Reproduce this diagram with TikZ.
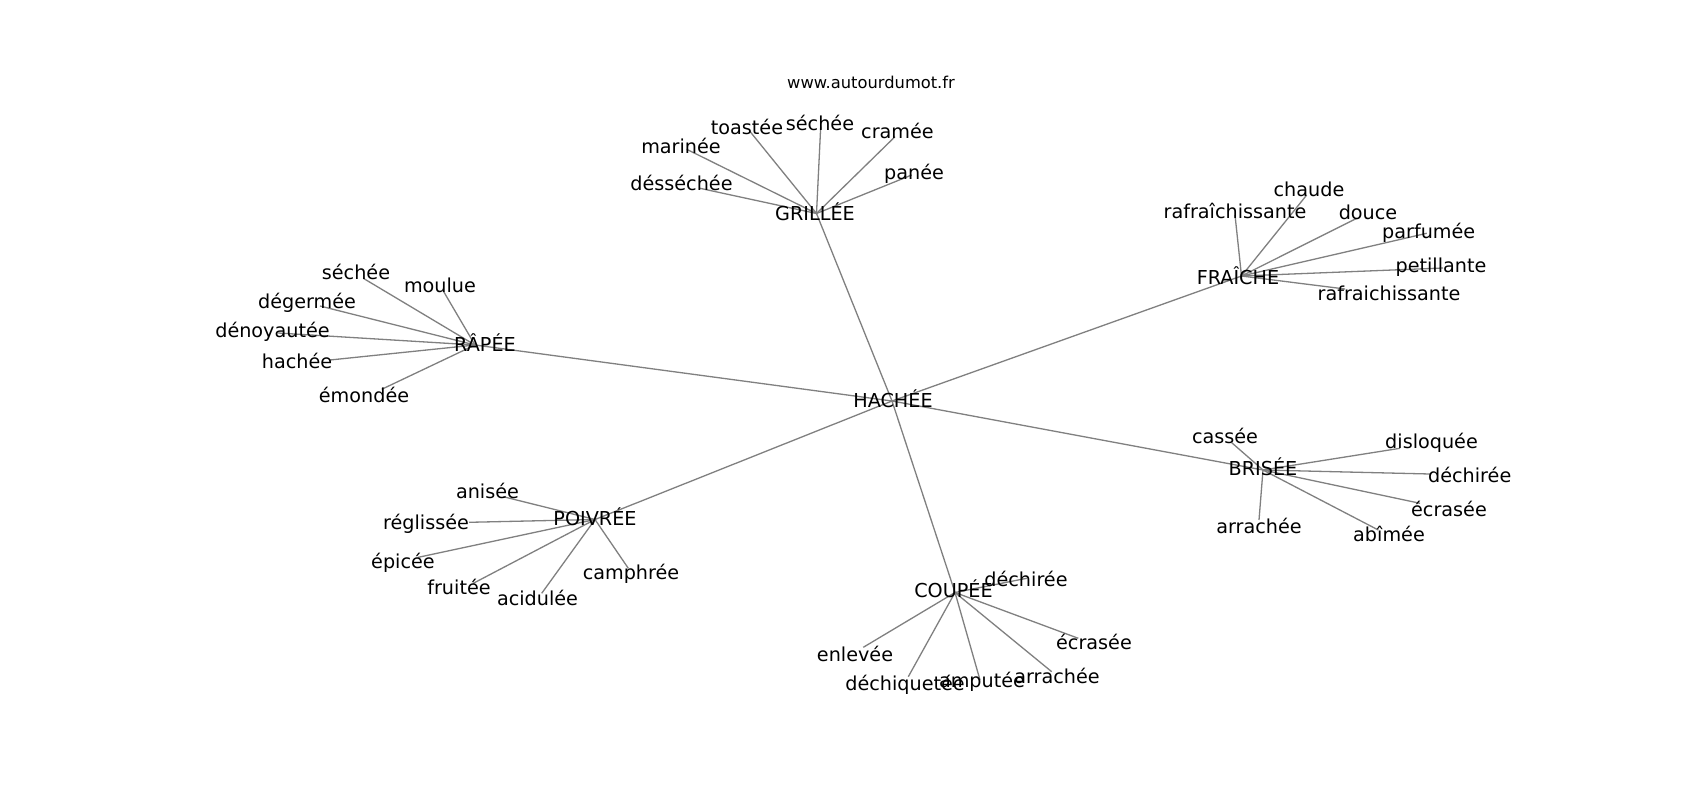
\documentclass[tikz,border=0pt]{standalone}
\usepackage{fontspec}
\setmainfont{DejaVu Sans}
\definecolor{edgegray}{HTML}{808080}
\tikzset{
  lbl/.style={inner sep=0pt, anchor=base, yshift=-7pt, font=\fontsize{19.2}{22}\selectfont, text=black},
  urlstyle/.style={inner sep=0pt, anchor=base, yshift=-5.6pt, font=\fontsize{16.3}{19}\selectfont, text=black},
  link/.style={draw=edgegray, line width=1.3pt}
}
\begin{document}
\begin{tikzpicture}[x=1pt,y=-1pt]
\useasboundingbox[fill=white] (0,0) rectangle (1700,800);
% edge end points
\coordinate (hachee) at (892,401);
\coordinate (grillee) at (816.5,213.5);
\coordinate (fraiche) at (1241.5,276);
\coordinate (rapee) at (475,345);
\coordinate (poivree) at (595,519.5);
\coordinate (brisee) at (1263,470);
\coordinate (coupee) at (955,592.5);
% grillee leaves
\coordinate (toastee) at (750,131.5);
\coordinate (sechA) at (820.7,126.7);
\coordinate (cramee) at (895,136.7);
\coordinate (panee) at (911.7,175);
\coordinate (marinee) at (686.7,149.3);
\coordinate (dessechee) at (700,188.3);
% fraiche leaves
\coordinate (chaude) at (1306.7,195);
\coordinate (rafA) at (1235,215);
\coordinate (douce) at (1356.7,218.3);
\coordinate (parfumee) at (1426.7,233.3);
\coordinate (petillante) at (1443,268);
\coordinate (rafB) at (1345,289);
% rapee leaves
\coordinate (sechB) at (363.3,278.3);
\coordinate (moulue) at (443.3,291);
\coordinate (degermee) at (320,306);
\coordinate (denoyautee) at (278,333);
\coordinate (hacheeL) at (330,360);
\coordinate (emondee) at (381.7,389.3);
% brisee leaves
\coordinate (cassee) at (1231.7,442.7);
\coordinate (disloquee) at (1400,448.3);
\coordinate (dechA) at (1430,474);
\coordinate (ecrA) at (1420,503.3);
\coordinate (arrA) at (1259,520);
\coordinate (abimee) at (1378.3,530);
% poivree leaves
\coordinate (anisee) at (503.3,496.7);
\coordinate (reglissee) at (469,522.3);
\coordinate (epicee) at (418.3,557.3);
\coordinate (fruitee) at (473.3,583.3);
\coordinate (acidulee) at (541.7,593.3);
\coordinate (camphree) at (628.3,568.3);
% coupee leaves
\coordinate (dechB) at (1026.7,578.3);
\coordinate (enlevee) at (863.3,647.3);
\coordinate (dechiquetee) at (908.3,676.7);
\coordinate (amputee) at (980,680);
\coordinate (arrB) at (1051.7,671.7);
\coordinate (ecrB) at (1078.3,638.3);

% edges
\foreach \h in {grillee,fraiche,rapee,poivree,brisee,coupee}
  \draw[link] (hachee) -- (\h);
\foreach \l in {toastee,sechA,cramee,panee,marinee,dessechee}
  \draw[link] (grillee) -- (\l);
\foreach \l in {chaude,rafA,douce,parfumee,petillante,rafB}
  \draw[link] (fraiche) -- (\l);
\foreach \l in {sechB,moulue,degermee,denoyautee,hacheeL,emondee}
  \draw[link] (rapee) -- (\l);
\foreach \l in {cassee,disloquee,dechA,ecrA,arrA,abimee}
  \draw[link] (brisee) -- (\l);
\foreach \l in {anisee,reglissee,epicee,fruitee,acidulee,camphree}
  \draw[link] (poivree) -- (\l);
\foreach \l in {dechB,enlevee,dechiquetee,amputee,arrB,ecrB}
  \draw[link] (coupee) -- (\l);

% labels
\node[urlstyle] (url) at (871,83) {www.autourdumot.fr};
\node[lbl] (hachee-t) at (893,400) {HACHÉE};
\node[lbl] (grillee-t) at (815,213) {GRILLÉE};
\node[lbl] (fraiche-t) at (1238,277) {FRAÎCHE};
\node[lbl] (rapee-t) at (485,344) {RÂPÉE};
\node[lbl] (poivree-t) at (595,518.5) {POIVRÉE};
\node[lbl] (brisee-t) at (1263,468.5) {BRISÉE};
\node[lbl] (coupee-t) at (953.5,590) {COUPÉE};

\node[lbl] (toastee-t) at (747,127) {toastée};
\node[lbl] (sechA-t) at (820,123.3) {séchée};
\node[lbl] (cramee-t) at (897.5,131.7) {cramée};
\node[lbl] (panee-t) at (914,172.7) {panée};
\node[lbl] (marinee-t) at (681,146) {marinée};
\node[lbl] (dessechee-t) at (681.5,183.3) {désséchée};

\node[lbl] (chaude-t) at (1309,189.3) {chaude};
\node[lbl] (rafA-t) at (1235,211) {rafraîchissante};
\node[lbl] (douce-t) at (1368,212.7) {douce};
\node[lbl] (parfumee-t) at (1428.7,231) {parfumée};
\node[lbl] (petillante-t) at (1441,265) {petillante};
\node[lbl] (rafB-t) at (1389,293.3) {rafraichissante};

\node[lbl] (sechB-t) at (356,272.7) {séchée};
\node[lbl] (moulue-t) at (440,285.7) {moulue};
\node[lbl] (degermee-t) at (307,301.7) {dégermée};
\node[lbl] (denoyautee-t) at (272.5,330) {dénoyautée};
\node[lbl] (hacheeL-t) at (297,361.7) {hachée};
\node[lbl] (emondee-t) at (364,395) {émondée};

\node[lbl] (cassee-t) at (1225,436) {cassée};
\node[lbl] (disloquee-t) at (1431.5,441.7) {disloquée};
\node[lbl] (dechA-t) at (1469.7,475) {déchirée};
\node[lbl] (ecrA-t) at (1449,509.3) {écrasée};
\node[lbl] (arrA-t) at (1259,526.7) {arrachée};
\node[lbl] (abimee-t) at (1389,534.3) {abîmée};

\node[lbl] (anisee-t) at (487.5,491.7) {anisée};
\node[lbl] (reglissee-t) at (426,522.7) {réglissée};
\node[lbl] (epicee-t) at (403,561) {épicée};
\node[lbl] (fruitee-t) at (459,587.7) {fruitée};
\node[lbl] (acidulee-t) at (537.5,598.3) {acidulée};
\node[lbl] (camphree-t) at (631,572.7) {camphrée};

\node[lbl] (dechB-t) at (1026,579.3) {déchirée};
\node[lbl] (enlevee-t) at (855,654.3) {enlevée};
\node[lbl] (dechiquetee-t) at (905,683.3) {déchiquetée};
\node[lbl] (amputee-t) at (982,680.7) {amputée};
\node[lbl] (arrB-t) at (1057,676) {arrachée};
\node[lbl] (ecrB-t) at (1094,642.7) {écrasée};
\end{tikzpicture}
\end{document}
